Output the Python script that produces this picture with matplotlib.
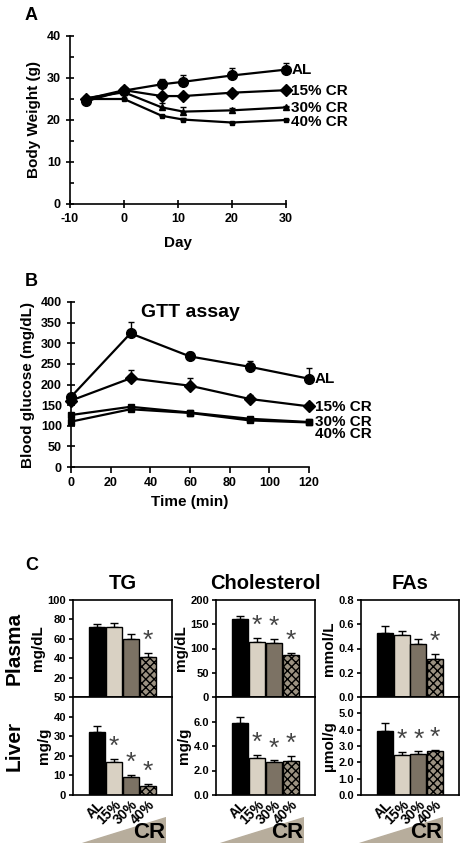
import matplotlib.pyplot as plt
from matplotlib.patches import Polygon

plt.rcParams['font.family'] = ['Liberation Sans', 'DejaVu Sans']
plt.rcParams['font.weight'] = 'bold'
plt.rcParams['axes.linewidth'] = 1.2
plt.rcParams['axes.unicode_minus'] = False

# ---- panel A: body weight ----
days = [-7, 0, 7, 11, 20, 30]
bw_al = [24.5, 27.0, 28.5, 29.1, 30.6, 32.0]
bw_al_err = [0.5, 0.5, 1.3, 1.5, 1.7, 1.5]
bw_15 = [25.0, 27.1, 25.7, 25.7, 26.5, 27.1]
bw_15_err = [0.4, 0.5, 0.4, 0.4, 0.4, 0.4]
bw_30 = [25.2, 26.6, 23.0, 22.0, 22.3, 23.0]
bw_30_err = [0.4, 0.5, 1.0, 1.0, 0.5, 0.4]
bw_40 = [25.0, 25.0, 21.0, 20.1, 19.4, 20.0]
bw_40_err = [0.3, 0.3, 0.3, 0.3, 0.2, 0.2]

# ---- panel B: GTT ----
minutes = [0, 30, 60, 90, 120]
gtt_al = [170, 324, 268, 243, 214]
gtt_al_err = [5, 28, 12, 14, 25]
gtt_15 = [161, 215, 197, 165, 147]
gtt_15_err = [5, 21, 19, 10, 8]
gtt_30 = [126, 146, 132, 117, 109]
gtt_30_err = [3, 4, 3, 3, 3]
gtt_40 = [110, 140, 131, 113, 108]
gtt_40_err = [3, 4, 3, 3, 3]

series_labels = ['AL', '15% CR', '30% CR', '40% CR']

# ---- panel C: bars ----
groups = ['AL', '15%', '30%', '40%']
tg_plasma = [72.5, 71.8, 59.5, 41.5]
tg_plasma_err = [2.5, 4.2, 5.1, 3.5]
tg_liver = [32.2, 16.8, 9.4, 4.8]
tg_liver_err = [2.8, 1.5, 1.0, 0.7]
chol_plasma = [160, 113, 112, 86]
chol_plasma_err = [8, 9, 7, 5]
chol_liver = [5.9, 3.05, 2.7, 2.75]
chol_liver_err = [0.45, 0.2, 0.12, 0.45]
fa_plasma = [0.526, 0.512, 0.44, 0.314]
fa_plasma_err = [0.063, 0.033, 0.037, 0.039]
fa_liver = [3.92, 2.45, 2.5, 2.7]
fa_liver_err = [0.5, 0.2, 0.17, 0.08]

W, H = 468, 852
fig = plt.figure(figsize=(W / 100, H / 100), dpi=100)


def rect(x0, y0, x1, y1):
    # pixel box (top-left origin) -> figure fraction
    return [x0 / W, 1 - y1 / H, (x1 - x0) / W, (y1 - y0) / H]


def line_panel(ax, x, series, errs, markers, sizes):
    for y, e, m, s in zip(series, errs, markers, sizes):
        ax.errorbar(x, y, yerr=[[0] * len(e), e], color='black', lw=1.6,
                    marker=m, ms=s, capsize=2.5, elinewidth=1, capthick=1,
                    clip_on=False, zorder=3)
    for side in ['top', 'right']:
        ax.spines[side].set_visible(False)
    ax.tick_params(labelsize=9, width=1.2)


# ---------- A ----------
axA = fig.add_axes(rect(70, 36, 286, 204))
line_panel(axA, days, [bw_al, bw_15, bw_30, bw_40],
           [bw_al_err, bw_15_err, bw_30_err, bw_40_err],
           ['o', 'D', '^', 's'], [7, 6, 5, 3.5])
axA.set_xlim(-10, 30)
axA.set_ylim(0, 40)
axA.set_xticks([-10, 0, 10, 20, 30])
axA.set_yticks([0, 10, 20, 30, 40])
axA.set_yticks([5, 15, 25, 35], minor=True)
axA.tick_params(axis='y', which='major', direction='inout', length=6)
axA.tick_params(axis='y', which='minor', direction='in', length=3, width=1.2)
axA.tick_params(axis='x', direction='inout', length=6)
axA.set_ylabel('Body Weight (g)', fontsize=11, fontweight='bold', labelpad=4)
axA.set_xlabel('Day', fontsize=11, fontweight='bold', labelpad=8)
for lab, yv in zip(series_labels, [32.0, 26.8, 22.9, 19.6]):
    axA.text(31.0, yv, lab, fontsize=11, fontweight='bold', va='center')
fig.text(25 / W, 1 - 16 / H, 'A', fontsize=13, fontweight='bold', va='center')

# ---------- B ----------
axB = fig.add_axes(rect(71, 302, 309, 467))
line_panel(axB, minutes, [gtt_al, gtt_15, gtt_30, gtt_40],
           [gtt_al_err, gtt_15_err, gtt_30_err, gtt_40_err],
           ['o', 'D', 's', 's'], [7, 6, 4.5, 4.5])
axB.set_xlim(0, 120)
axB.set_ylim(0, 400)
axB.set_xticks([0, 20, 40, 60, 80, 100, 120])
axB.set_yticks(range(0, 401, 50))
axB.tick_params(axis='y', direction='inout', length=6)
axB.tick_params(axis='x', direction='out', length=4)
axB.set_ylabel('Blood glucose (mg/dL)', fontsize=11, fontweight='bold', labelpad=4)
axB.set_xlabel('Time (min)', fontsize=11, fontweight='bold', labelpad=4)
axB.text(60, 395, 'GTT assay', fontsize=14, fontweight='bold', ha='center', va='top')
for lab, yv in zip(series_labels, [213, 146, 110, 80]):
    axB.text(123, yv, lab, fontsize=11, fontweight='bold', va='center')
fig.text(25 / W, 1 - 282 / H, 'B', fontsize=13, fontweight='bold', va='center')

# ---------- C ----------
fig.text(25 / W, 1 - 565 / H, 'C', fontsize=13, fontweight='bold', va='center')

bar_colors = ['black', '#d9d1c3', '#7c7264', '#9c9282']
bar_hatch = [None, None, None, 'xxxx']
cols = [
    dict(x0=73, x1=172, title='TG',
         plasma=(tg_plasma, tg_plasma_err, (0, 100), [20, 40, 60, 80, 100], '{:.0f}', [3], 'mg/dL'),
         liver=(tg_liver, tg_liver_err, (0, 50), [0, 10, 20, 30, 40, 50], '{:.0f}', [1, 2, 3], 'mg/g'),
         tri=(82, 166)),
    dict(x0=216, x1=315, title='Cholesterol',
         plasma=(chol_plasma, chol_plasma_err, (0, 200), [0, 50, 100, 150, 200], '{:.0f}', [1, 2, 3], 'mg/dL'),
         liver=(chol_liver, chol_liver_err, (0, 8), [0, 2, 4, 6], '{:.1f}', [1, 2, 3], 'mg/g'),
         tri=(220, 304)),
    dict(x0=361, x1=459, title='FAs',
         plasma=(fa_plasma, fa_plasma_err, (0, 0.8), [0, 0.2, 0.4, 0.6, 0.8], '{:.1f}', [3], 'mmol/L'),
         liver=(fa_liver, fa_liver_err, (0, 6), [0, 1, 2, 3, 4, 5], '{:.1f}', [1, 2, 3], 'µmol/g'),
         tri=(359, 443)),
]

xpos = [0, 1, 2, 3]
for ci, col in enumerate(cols):
    for row, (key, y0, y1) in enumerate([('plasma', 600, 697), ('liver', 697, 795)]):
        vals, errs, ylim, ticks, fmt, stars, unit = col[key]
        ax = fig.add_axes(rect(col['x0'], y0, col['x1'], y1))
        for i in xpos:
            ax.bar(i, vals[i], width=0.97, color=bar_colors[i], edgecolor='black',
                   linewidth=1, hatch=bar_hatch[i], zorder=2)
        ax.errorbar(xpos, vals, yerr=[[0] * 4, errs], fmt='none', ecolor='black',
                    elinewidth=1, capsize=3, capthick=1, zorder=1)
        ax.set_xlim(-1.45, 4.45)
        ax.set_ylim(*ylim)
        ax.set_yticks(ticks)
        ax.set_yticklabels([fmt.format(t) for t in ticks])
        ax.tick_params(axis='y', labelsize=8, direction='out', length=3, width=1.2, pad=2)
        ax.tick_params(axis='x', length=0)
        for s in stars:
            ax.text(s, vals[s] + errs[s], '*', fontsize=19,
                    fontweight='normal', color='#444444', ha='center', va='bottom')
        if row == 0:
            ax.set_xticklabels([])
            ax.set_title(col['title'], fontsize=14.5, fontweight='bold', pad=8)
        else:
            ax.set_xticks(xpos)
            ax.set_xticklabels(groups, rotation=45, ha='right', rotation_mode='anchor',
                               fontsize=10, fontweight='bold')
            ax.tick_params(axis='x', pad=2)
        ax.set_ylabel(unit, fontsize=11, fontweight='bold', labelpad=2)
        if ci == 0:
            fig.text(14 / W, 1 - (y0 + y1) / 2 / H, 'Plasma' if row == 0 else 'Liver',
                     rotation=90, fontsize=15, fontweight='bold', ha='center', va='center')

    # CR wedge under each column
    tx0, tx1 = col['tri']
    tax = fig.add_axes(rect(tx0, 817, tx1, 843))
    tax.add_patch(Polygon([[0, 0], [1, 0], [1, 1]], closed=True, color='#b7ad9c'))
    tax.set_xlim(0, 1)
    tax.set_ylim(0, 1)
    tax.axis('off')
    tax.text(0.99, 0.4, 'CR', fontsize=16, fontweight='bold', ha='right', va='center')

fig.savefig('out.png', dpi=100)
